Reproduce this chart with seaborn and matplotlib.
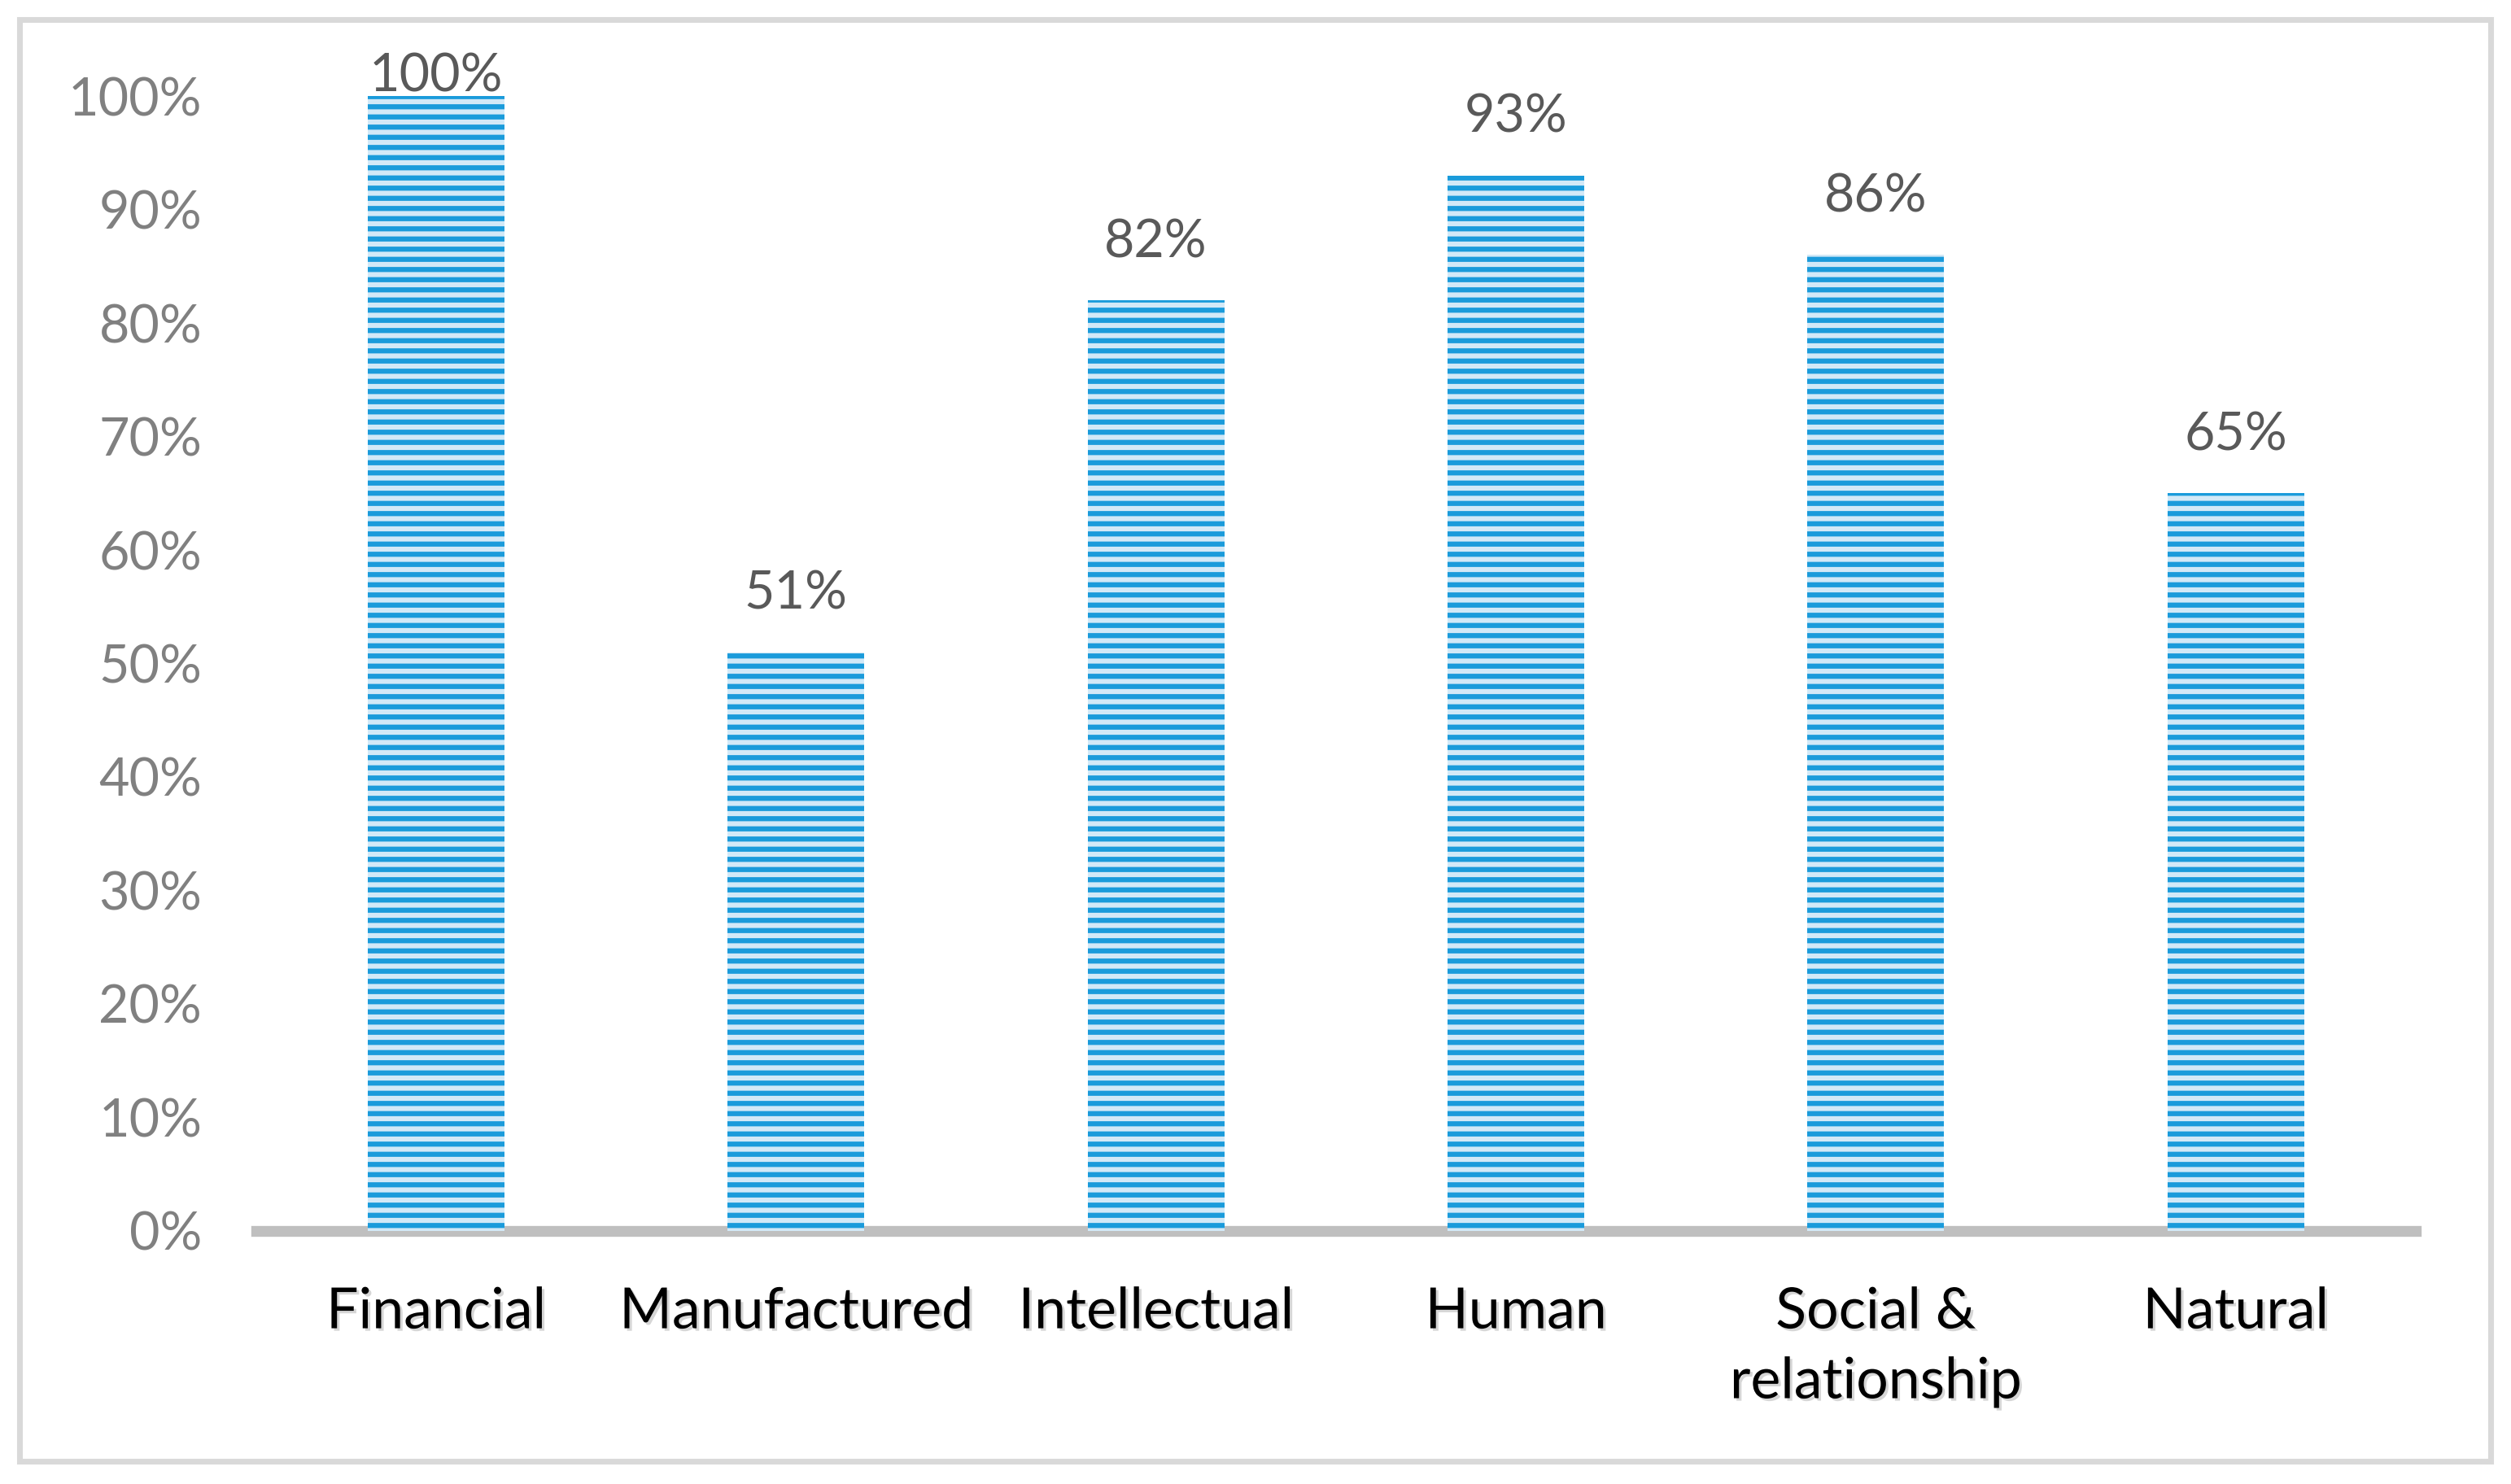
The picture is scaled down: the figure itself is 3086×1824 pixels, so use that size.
import matplotlib
matplotlib.use("Agg")
import matplotlib.pyplot as plt
import matplotlib.patheffects as pe
from matplotlib.patches import Rectangle
from matplotlib.ticker import PercentFormatter, MultipleLocator
import seaborn as sns

# data
capitals = ["Financial", "Manufactured", "Intellectual", "Human",
            "Social &\nrelationship", "Natural"]
shares = [1.00, 0.51, 0.82, 0.93, 0.86, 0.65]
share_labels = ["100%", "51%", "82%", "93%", "86%", "65%"]

stripe_dark = "#1a9bdb"
stripe_light = "#d3e9f7"

sns.set_style("white")
plt.rcParams["font.family"] = ["Lato", "DejaVu Sans"]
plt.rcParams["hatch.linewidth"] = 3.0

fig = plt.figure(figsize=(20.58, 12.16), dpi=150)
ax = fig.add_axes([0.102, 0.1706, 0.8597, 0.7646])

sns.barplot(x=capitals, y=shares, width=0.38, color=stripe_light, ax=ax,
            saturation=1)

for bar in ax.patches:
    bar.set_facecolor(stripe_light)
    bar.set_edgecolor(stripe_dark)
    bar.set_linewidth(0)
    bar.set_hatch("--")

ax.set_ylim(0, 1.0)
ax.set_xlim(-0.5, len(capitals) - 0.5)
ax.yaxis.set_major_locator(MultipleLocator(0.1))
ax.yaxis.set_major_formatter(PercentFormatter(1.0, decimals=0))

for s in ["top", "right", "left"]:
    ax.spines[s].set_visible(False)
ax.spines["bottom"].set_color("#bfbfbf")
ax.spines["bottom"].set_linewidth(6.4)
ax.spines["bottom"].set_zorder(0.5)

shadow = [pe.withSimplePatchShadow(offset=(1.5, -1.5), shadow_rgbFace="#bbbbbb", alpha=0.6)]
ax.tick_params(axis="y", length=0, pad=32, labelsize=31, labelcolor="#808080")
ax.tick_params(axis="x", length=0, pad=33, labelsize=33.5, labelcolor="black")
for lab in ax.get_xticklabels():
    lab.set_path_effects(shadow)
    lab.set_linespacing(1.45)

for i, (v, txt) in enumerate(zip(shares, share_labels)):
    ax.text(i, min(v + 0.038, 1.004), txt, ha="center", va="baseline",
            fontsize=31, color="#595959")

fig.patches.append(Rectangle((0.0077, 0.0151), 0.984, 0.972, transform=fig.transFigure,
                             fill=False, edgecolor="#d9d9d9", linewidth=3.4))

fig.savefig("out.png", dpi=150, facecolor="white")
